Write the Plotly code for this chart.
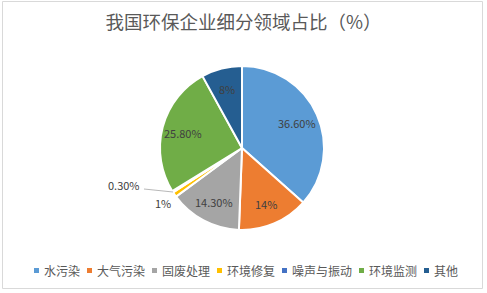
import math
import plotly.graph_objects as go

# Share of environmental-protection companies by sub-sector (%)
categories = ["水污染", "大气污染", "固废处理", "环境修复", "噪声与振动", "环境监测", "其他"]
shares = [36.6, 14, 14.3, 1, 0.3, 25.8, 8]
colors = ["#5B9BD5", "#ED7D31", "#A5A5A5", "#FFC000", "#4472C4", "#70AD47", "#255E91"]


def fmt(v):
    return f"{v:.0f}%" if float(v).is_integer() else f"{v:.2f}%"


labels_txt = [fmt(v) for v in shares]

W, H = 487, 293
cx, cy, r = 242, 148, 82
LABEL_FONT = dict(size=11, color="#404040", family="Noto Sans CJK SC")

fig = go.Figure(
    go.Pie(
        labels=categories,
        values=shares,
        textinfo="none",
        marker=dict(colors=colors, line=dict(color="white", width=2)),
        sort=False,
        direction="clockwise",
        rotation=0,
        domain=dict(x=[(cx - r) / W, (cx + r) / W], y=[1 - (cy + r) / H, 1 - (cy - r) / H]),
        showlegend=False,
    )
)


def label(px, py, text, xanchor="center"):
    fig.add_annotation(x=px / W, y=1 - py / H, xref="paper", yref="paper",
                       xanchor=xanchor, yanchor="middle",
                       text=text, showarrow=False, font=LABEL_FONT)


# Data labels inside the larger slices, placed along each slice's mid-angle
total = sum(shares)
cum = 0.0
for v, t in zip(shares, labels_txt):
    mid = (cum + v / 2) / total * 2 * math.pi
    cum += v
    if v < 2:
        continue
    d = 0.74 * r
    label(cx + d * math.sin(mid), cy - d * math.cos(mid), t)

# Outside labels for the two thin slices
i_rep = categories.index("环境修复")
i_noise = categories.index("噪声与振动")
label(163, 203, labels_txt[i_rep])
fig.add_shape(
    type="path", xref="paper", yref="paper",
    path=f"M {144 / W} {1 - 189 / H} L {173 / W} {1 - 192 / H}",
    line=dict(color="#A6A6A6", width=0.8),
)
label(142, 185, labels_txt[i_noise], xanchor="right")

# Legend row: small square swatch followed by the category name
LEG_FS = 12
lx, ly = 34, 270
for name, col in zip(categories, colors):
    fig.add_shape(type="rect", xref="paper", yref="paper",
                  x0=lx / W, x1=(lx + 5) / W, y0=1 - (ly + 3) / H, y1=1 - (ly - 2) / H,
                  fillcolor=col, line=dict(width=0))
    tx = lx + 8
    fig.add_annotation(x=tx / W, y=1 - ly / H, xref="paper", yref="paper",
                       xanchor="left", yanchor="middle", text=name, showarrow=False,
                       font=dict(size=LEG_FS, color="#595959", family="Noto Sans CJK SC"))
    lx = tx + LEG_FS * len(name) + 9

# Chart-area border
fig.add_shape(
    type="rect", xref="paper", yref="paper",
    x0=2.5 / W, x1=482.5 / W, y0=1 - 288.5 / H, y1=1 - 1.5 / H,
    line=dict(color="#D9D9D9", width=1),
)

fig.update_layout(
    width=W, height=H,
    margin=dict(l=0, r=0, t=0, b=0),
    paper_bgcolor="white",
    plot_bgcolor="white",
    font=dict(family="Noto Sans CJK SC", color="#595959"),
    title=dict(
        text="我国环保企业细分领域占比（%）",
        x=0.5, xanchor="center", y=1 - 23 / H, yanchor="middle",
        font=dict(size=18.5, color="#595959", family="Noto Sans CJK SC"),
    ),
    showlegend=False,
)

fig.write_html("out.html")
